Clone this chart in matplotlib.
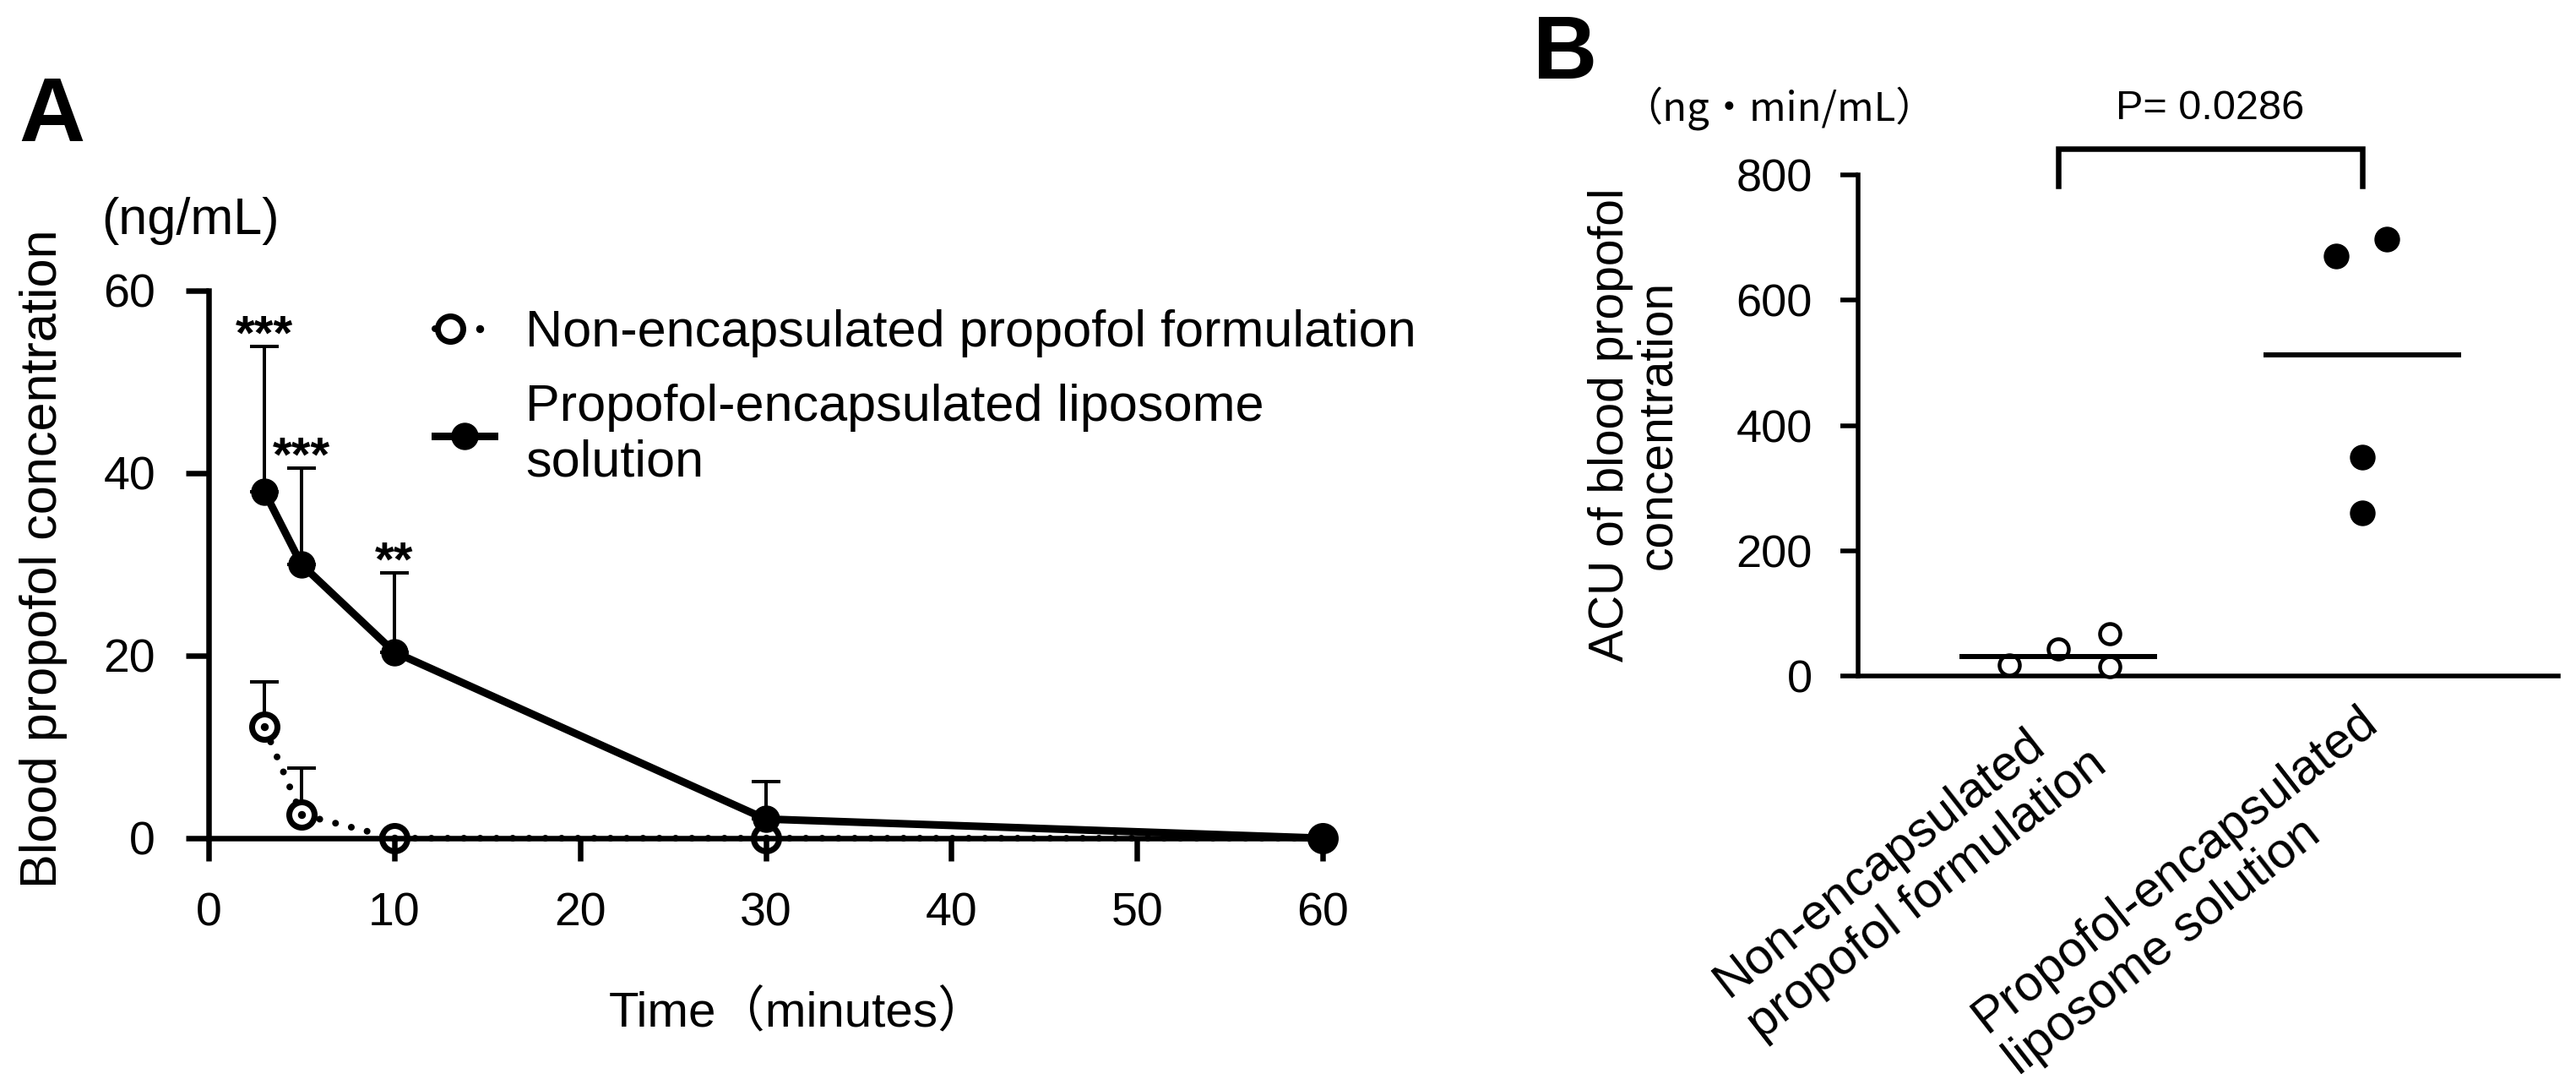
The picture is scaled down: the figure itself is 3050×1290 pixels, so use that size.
import matplotlib
matplotlib.use('Agg')
import matplotlib.pyplot as plt
import matplotlib.transforms as mtransforms
from matplotlib.legend_handler import HandlerTuple

plt.rcParams['font.family'] = ['Liberation Sans', 'Noto Sans CJK JP']

# ---------------- data ----------------
time_min = [3, 5, 10, 30, 60]
non_enc_mean = [12.2, 2.6, 0.0, 0.0, 0.0]
non_enc_sd = [4.9, 5.1, 0.0, 0.0, 0.0]
lipo_mean = [38.0, 30.0, 20.4, 2.1, 0.0]
lipo_sd = [15.9, 10.6, 8.7, 4.1, 0.0]
sig_time = [3, 5, 10]
sig_top = [53.9, 40.6, 29.1]
sig_labels = ['***', '***', '**']
x_ticks_a = [0, 10, 20, 30, 40, 50, 60]
y_ticks_a = [0, 20, 40, 60]
series_names = ['Non-encapsulated propofol formulation',
                'Propofol-encapsulated liposome\nsolution']

group_labels = ['Non-encapsulated\npropofol formulation',
                'Propofol-encapsulated\nliposome solution']
auc_non_enc = [17, 43, 67, 15]
auc_lipo = [671, 698, 350, 260]
auc_center = [31, 512]
y_ticks_b = [0, 200, 400, 600, 800]
p_label = 'P= 0.0286'

# ---------------- layout helpers ----------------
W, H = 3050, 1290
DPI = 100
fig = plt.figure(figsize=(W / DPI, H / DPI), dpi=DPI)
fig.patch.set_facecolor('white')


def fx(px):
    return px / W


def fy(py):
    return 1 - py / H


def pt(px):
    return px * 72.0 / DPI


# ================= Panel A =================
axA = fig.add_axes([fx(247), fy(992), (1566 - 247) / W, (992 - 344) / H])
axA.set_xlim(0, 60)
axA.set_ylim(0, 60)
for s in ['top', 'right']:
    axA.spines[s].set_visible(False)
for s in ['left', 'bottom']:
    axA.spines[s].set_linewidth(pt(6.5))
    axA.spines[s].set_zorder(10)
axA.xaxis.set_zorder(10)
axA.yaxis.set_zorder(10)
axA.set_xticks(x_ticks_a)
axA.set_yticks(y_ticks_a)
axA.tick_params(axis='both', direction='out', length=pt(27), width=pt(6.5),
                labelsize=40, pad=pt(36), color='black')

zeros = [0] * len(time_min)
# error bars (upper only)
axA.errorbar(time_min, non_enc_mean, yerr=[zeros, non_enc_sd], fmt='none',
             ecolor='black', elinewidth=pt(4), capsize=pt(17), capthick=pt(4),
             zorder=2, clip_on=False)
axA.errorbar(time_min, lipo_mean, yerr=[zeros, lipo_sd], fmt='none',
             ecolor='black', elinewidth=pt(4), capsize=pt(17), capthick=pt(4),
             zorder=2, clip_on=False)

lw_dot = pt(8)
l_non, = axA.plot(time_min, non_enc_mean, linestyle=(0, (0.01, 2.4)),
                  dash_capstyle='round', lw=lw_dot, color='black',
                  marker='o', ms=pt(30), mfc='white', mec='black', mew=pt(7),
                  clip_on=False, zorder=4)
l_non_dot, = axA.plot(time_min, non_enc_mean, linestyle='none', marker='o',
                      ms=pt(8), color='black', clip_on=False, zorder=5)
l_lipo, = axA.plot(time_min, lipo_mean, '-', color='black', lw=pt(9),
                   marker='o', ms=pt(31), mfc='black', mec='black',
                   clip_on=False, zorder=6)

for t, top, lab in zip(sig_time, sig_top, sig_labels):
    axA.annotate(lab, xy=(t, top), xytext=(0, -3), textcoords='offset points',
                 ha='center', va='baseline', fontsize=42, fontweight='bold',
                 zorder=7)

fig.text(fx(52), fy(661), 'Blood propofol concentration', rotation=90,
         ha='center', va='center', fontsize=44)
fig.text(fx(120), fy(262), '(ng/mL)', ha='left', va='center', fontsize=44)
fig.text(fx(945), fy(1215), 'Time（minutes）', ha='center', va='baseline',
         fontsize=42)
fig.text(fx(22), fy(167), 'A', ha='left', va='baseline', fontsize=78,
         fontweight='bold')

leg = axA.legend([(l_non, l_non_dot), l_lipo], series_names,
                 handler_map={tuple: HandlerTuple(ndivide=None)},
                 loc='upper left', bbox_to_anchor=(fx(515), fy(366)),
                 bbox_transform=fig.transFigure, frameon=False, fontsize=44,
                 handlelength=1.15, handletextpad=0.6, labelspacing=0.5,
                 borderpad=0, borderaxespad=0)

# ================= Panel B =================
axB = fig.add_axes([fx(2200), fy(800), (3029 - 2200) / W, (800 - 207) / H])
axB.set_ylim(0, 800)
axB.set_xlim(-0.658, 1.644)
for s in ['top', 'right']:
    axB.spines[s].set_visible(False)
for s in ['left', 'bottom']:
    axB.spines[s].set_linewidth(pt(5.5))
axB.set_yticks(y_ticks_b)
axB.tick_params(axis='y', direction='out', length=pt(21), width=pt(5.5),
                labelsize=39, pad=pt(33))
axB.set_xticks([])

jit_non = [-0.16, 0.0, 0.17, 0.17]
jit_lipo = [-0.085, 0.08, 0.0, 0.0]
axB.plot([0 + j for j in jit_non], auc_non_enc, linestyle='none', marker='o',
         ms=pt(24), mfc='white', mec='black', mew=pt(4.5), zorder=3,
         clip_on=False)
axB.plot([1 + j for j in jit_lipo], auc_lipo, linestyle='none', marker='o',
         ms=pt(29), mfc='black', mec='black', zorder=3, clip_on=False)
half = 0.325
for i, c in enumerate(auc_center):
    axB.plot([i - half, i + half], [c, c], color='black', lw=pt(6),
             solid_capstyle='butt', zorder=4)

# significance bracket
axB.plot([0, 0, 1, 1], [782, 842, 842, 782], color='black', lw=pt(6.5),
         clip_on=False, solid_joinstyle='miter')
axB.text(0.5, 842, p_label, ha='center', va='baseline', fontsize=35,
         transform=mtransforms.offset_copy(axB.transData, fig=fig,
                                           x=0, y=35, units='dots'))

# rotated category labels
for i, lab in enumerate(group_labels):
    tr = mtransforms.offset_copy(axB.get_xaxis_transform(), fig=fig,
                                 x=-6, y=-26, units='dots')
    axB.text(i, 0, lab, transform=tr, rotation=38, rotation_mode='anchor',
             ha='right', va='top', multialignment='left', fontsize=42.5)

fig.text(fx(1935), fy(503), 'ACU of blood propofol\nconcentration',
         rotation=90, ha='center', va='center', multialignment='center',
         fontsize=41, linespacing=1.05)
fig.text(fx(1921), fy(143), '（ng・min/mL）', ha='left', va='baseline',
         fontsize=34, family=['Noto Sans CJK JP'])
fig.text(fx(1815), fy(93), 'B', ha='left', va='baseline', fontsize=76,
         fontweight='bold')

fig.savefig('out.png', dpi=DPI, facecolor='white')
